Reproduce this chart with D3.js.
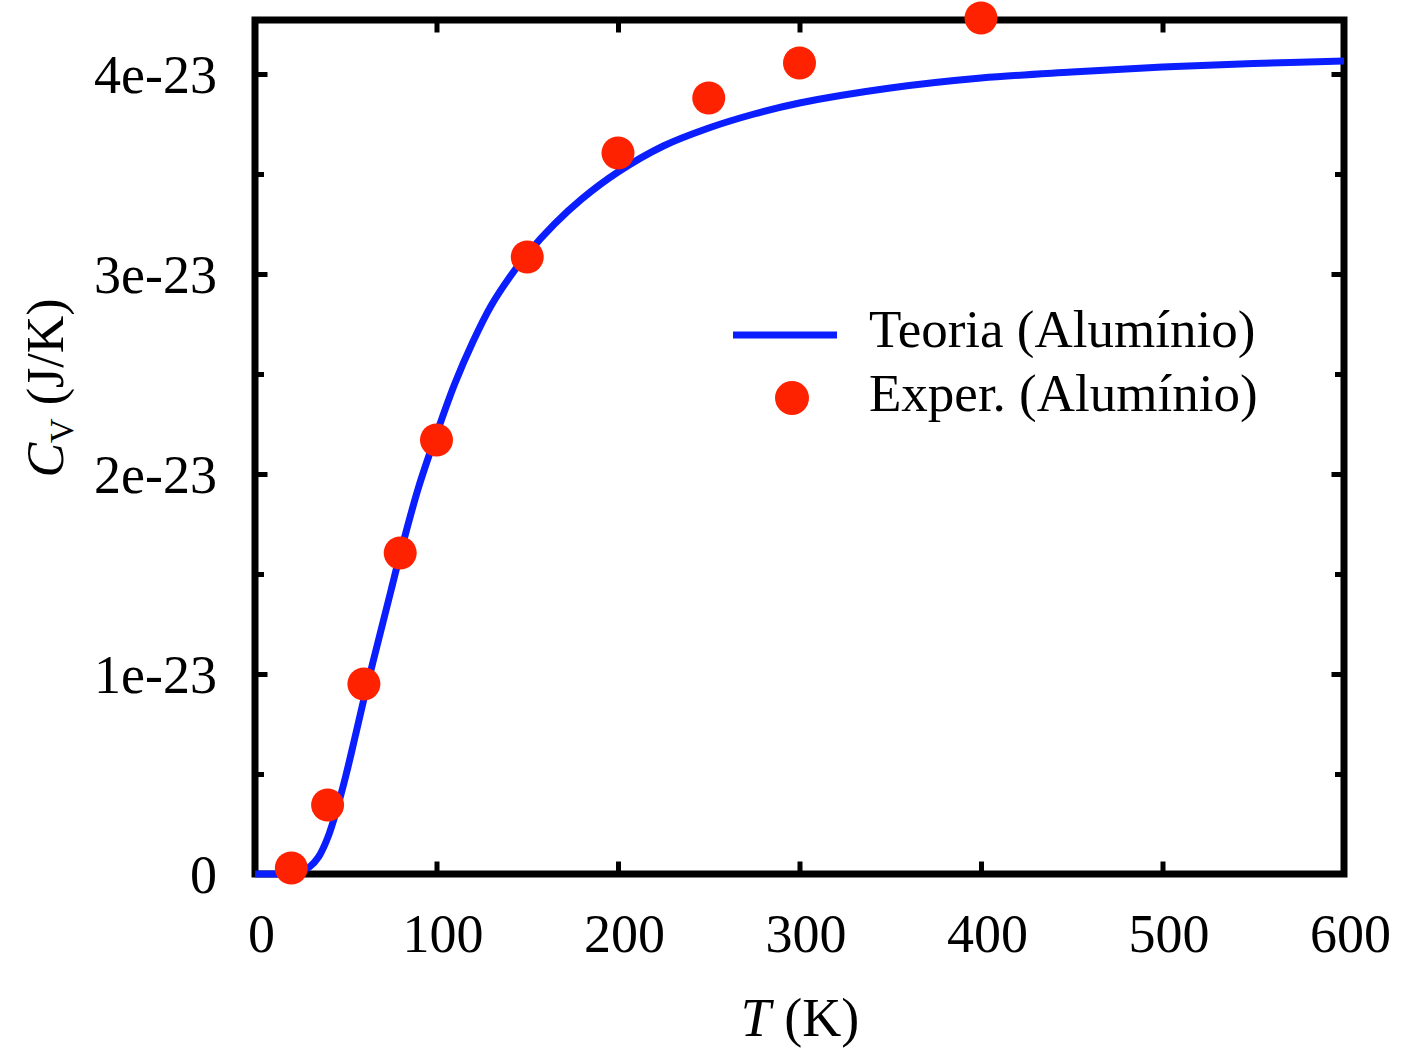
<!DOCTYPE html>
<html>
<head>
<meta charset="utf-8">
<script src="https://cdn.jsdelivr.net/npm/d3@7"></script>
<style>
  html, body { margin: 0; padding: 0; background: #fff; }
  svg { display: block; }
  text { font-family: "Liberation Serif", "Times New Roman", serif; fill: #000; }
</style>
</head>
<body>
<script>
// ---- data ----
const theoryT  = [0, 10, 20, 25, 30, 35, 40, 45, 50, 55, 60, 65, 70, 75, 80, 90, 100, 110, 120, 130, 140, 150, 165, 180, 200, 225, 250, 275, 300, 350, 400, 450, 500, 550, 600];
const theoryCv = [0, 0, 0.005e-23, 0.015e-23, 0.035e-23, 0.085e-23, 0.18e-23, 0.32e-23, 0.49e-23, 0.68e-23, 0.875e-23, 1.06e-23, 1.24e-23, 1.42e-23, 1.6e-23, 1.93e-23, 2.2e-23, 2.45e-23, 2.66e-23, 2.84e-23, 2.98e-23, 3.1e-23, 3.25e-23, 3.375e-23, 3.51e-23, 3.64e-23, 3.73e-23, 3.8e-23, 3.855e-23, 3.93e-23, 3.98e-23, 4.01e-23, 4.035e-23, 4.052e-23, 4.065e-23];
const expT  = [20, 40, 60, 80, 100, 150, 200, 250, 300, 400];
const expCv = [0.03e-23, 0.345e-23, 0.95e-23, 1.605e-23, 2.17e-23, 3.085e-23, 3.605e-23, 3.88e-23, 4.055e-23, 4.28e-23];
const xTicks = [0, 100, 200, 300, 400, 500, 600];
const yTicks = [0, 1e-23, 2e-23, 3e-23, 4e-23];
const yTickLabels = ["0", "1e-23", "2e-23", "3e-23", "4e-23"];
const yMinorTicks = [0.5e-23, 1.5e-23, 2.5e-23, 3.5e-23];
const legendLabels = ["Teoria (Alumínio)", "Exper. (Alumínio)"];

// ---- layout ----
const W = 1403, H = 1051;
const L = 255, R = 1344, T = 20, B = 874;
const blue = "#0a1eff", red = "#ff2200";

const svg = d3.select("body").append("svg").attr("width", W).attr("height", H);

const x = d3.scaleLinear().domain([0, 600]).range([L, R]);
const y = d3.scaleLinear().domain([0, 4.27e-23]).range([B, T]);

// axes (ticks inward on all sides)
const fs = 54;
const axB = d3.axisBottom(x).tickValues(xTicks).tickSize(-12.5).tickFormat(d => d).tickPadding(40);
const gB = svg.append("g").attr("transform", `translate(0,${B})`).call(axB);
const axT = d3.axisTop(x).tickValues(xTicks).tickSize(-12.5).tickFormat("");
const gT = svg.append("g").attr("transform", `translate(0,${T})`).call(axT);
const axL = d3.axisLeft(y).tickValues(yTicks).tickSize(-12.5).tickFormat((d, i) => yTickLabels[i]).tickPadding(38);
const gL = svg.append("g").attr("transform", `translate(${L},0)`).call(axL);
const axR = d3.axisRight(y).tickValues(yTicks).tickSize(-12.5).tickFormat("");
const gR = svg.append("g").attr("transform", `translate(${R},0)`).call(axR);
const axLm = d3.axisLeft(y).tickValues(yMinorTicks).tickSize(-9).tickFormat("");
const gLm = svg.append("g").attr("transform", `translate(${L},0)`).call(axLm);
const axRm = d3.axisRight(y).tickValues(yMinorTicks).tickSize(-9).tickFormat("");
const gRm = svg.append("g").attr("transform", `translate(${R},0)`).call(axRm);

[gB, gT, gL, gR, gLm, gRm].forEach(g => {
  g.select(".domain").remove();
  g.selectAll(".tick line").attr("stroke", "#000").attr("stroke-width", 5);
  g.selectAll("text").attr("font-family", "Liberation Serif, serif").attr("font-size", fs).attr("fill", "#000");
});
gB.selectAll("text").attr("dy", "0.71em").attr("transform", "translate(6,0)");
gL.selectAll("text").attr("dy", "0.34em");

// frame
svg.append("rect").attr("x", L).attr("y", T).attr("width", R - L).attr("height", B - T)
  .attr("fill", "none").attr("stroke", "#000").attr("stroke-width", 7);

// theory curve
const line = d3.line().x((d, i) => x(theoryT[i])).y((d, i) => y(theoryCv[i])).curve(d3.curveCatmullRom.alpha(0.5));
svg.append("path").datum(theoryT).attr("d", line)
  .attr("fill", "none").attr("stroke", blue).attr("stroke-width", 7).attr("stroke-linejoin", "round");

// experimental points
svg.append("g").selectAll("circle").data(expT).join("circle")
  .attr("cx", (d, i) => x(expT[i])).attr("cy", (d, i) => y(expCv[i]))
  .attr("r", 16.5).attr("fill", red);

// legend
const lg = svg.append("g");
lg.append("line").attr("x1", 733).attr("x2", 837).attr("y1", 335).attr("y2", 335)
  .attr("stroke", blue).attr("stroke-width", 7);
lg.append("circle").attr("cx", 792).attr("cy", 398).attr("r", 17).attr("fill", red);
lg.selectAll("text").data(legendLabels).join("text")
  .attr("x", 869).attr("y", (d, i) => 347 + i * 64)
  .attr("font-size", 53).text(d => d);

// x label
const xl = svg.append("text").attr("x", 800).attr("y", 1036).attr("text-anchor", "middle").attr("font-size", 54);
xl.append("tspan").attr("font-style", "italic").text("T");
xl.append("tspan").text(" (K)");

// y label
const yl = svg.append("text").attr("transform", "translate(63,388) rotate(-90)").attr("text-anchor", "middle").attr("font-size", 52);
yl.append("tspan").attr("font-style", "italic").text("C");
yl.append("tspan").attr("font-size", 34).attr("dy", 10).text("V");
yl.append("tspan").attr("dy", -10).text(" (J/K)");
</script>
</body>
</html>
